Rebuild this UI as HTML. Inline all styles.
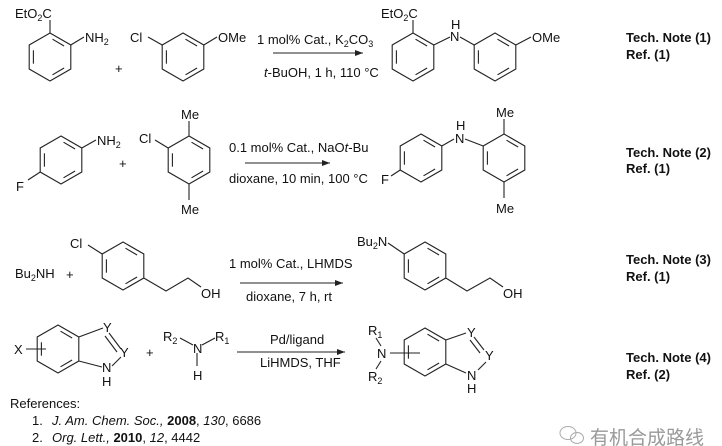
<!DOCTYPE html>
<html><head><meta charset="utf-8"><style>
html,body{margin:0;padding:0;background:#fff;}
svg{display:block;font-family:"Liberation Sans",Arial,sans-serif;}
text{font-size:13px;fill:#111;}
.b{font-weight:bold;font-size:13px;}
</style></head><body>
<svg width="722" height="446" viewBox="0 0 722 446" xmlns="http://www.w3.org/2000/svg">
<defs>
<g id="ring" fill="none" stroke="#222" stroke-width="1.1">
<polygon points="0,-24 20.8,-12 20.8,12 0,24 -20.8,12 -20.8,-12"/>
<line x1="2.5" y1="-17.8" x2="14.1" y2="-11"/>
<line x1="14.1" y1="11" x2="2.5" y2="17.8"/>
<line x1="-16.6" y1="6.7" x2="-16.6" y2="-6.7"/>
</g>
<marker id="ah" markerWidth="8" markerHeight="6" refX="8" refY="3" orient="auto" markerUnits="userSpaceOnUse"><path d="M0,0 L8,3 L0,6 z" fill="#222"/></marker>
</defs>
<g stroke="#222" stroke-width="1.1" fill="none">
<!-- row 1 -->
<line x1="50" y1="33" x2="50" y2="20"/>
<line x1="70.8" y1="45" x2="84" y2="37"/>
<line x1="162.2" y1="45" x2="148" y2="37"/>
<line x1="203.8" y1="45" x2="217" y2="37"/>
<line x1="273" y1="53" x2="363" y2="53" marker-end="url(#ah)"/>
<line x1="413" y1="33" x2="413" y2="20"/>
<line x1="433.8" y1="45" x2="450" y2="37"/>
<line x1="460" y1="37" x2="474.2" y2="45"/>
<line x1="515.8" y1="45" x2="531" y2="37"/>
<!-- row 2 -->
<line x1="81.8" y1="148" x2="96" y2="140"/>
<line x1="40.2" y1="172" x2="28" y2="180"/>
<line x1="189" y1="136" x2="189" y2="121"/>
<line x1="189" y1="184" x2="189" y2="200"/>
<line x1="168.2" y1="148" x2="155" y2="140"/>
<line x1="245" y1="163" x2="330" y2="163" marker-end="url(#ah)"/>
<line x1="400.2" y1="170" x2="391" y2="176"/>
<line x1="441.8" y1="146" x2="454" y2="139"/>
<line x1="465" y1="139" x2="483.2" y2="146"/>
<line x1="504" y1="134" x2="504" y2="119"/>
<line x1="504" y1="182" x2="504" y2="198"/>
<!-- row 3 -->
<line x1="102.2" y1="254" x2="88" y2="245"/>
<polyline points="143.8,278 166,291 188,278 201,287"/>
<line x1="240" y1="283" x2="343" y2="283" marker-end="url(#ah)"/>
<line x1="388" y1="243" x2="404.2" y2="254"/>
<polyline points="445.8,278 467,291 490,278 503,287"/>
<!-- row 4 -->
<line x1="78.8" y1="337" x2="103" y2="328"/>
<line x1="109" y1="333" x2="121" y2="349"/>
<line x1="105" y1="336" x2="117" y2="352"/>
<line x1="121" y1="357" x2="112" y2="366"/>
<line x1="102" y1="367" x2="78.8" y2="361"/>
<line x1="26" y1="349" x2="46" y2="349"/>
<line x1="180" y1="338" x2="193" y2="345"/>
<line x1="202" y1="345" x2="215" y2="338"/>
<line x1="197" y1="353" x2="197" y2="366"/>
<line x1="237" y1="352" x2="345" y2="352" marker-end="url(#ah)"/>
<line x1="376" y1="338" x2="381" y2="346"/>
<line x1="381" y1="361" x2="376" y2="369"/>
<line x1="390" y1="353" x2="420" y2="353"/>
<line x1="445.8" y1="340" x2="466" y2="333"/>
<line x1="474" y1="337" x2="484" y2="350"/>
<line x1="470" y1="340" x2="480" y2="353"/>
<line x1="486" y1="362" x2="478" y2="370"/>
<line x1="466" y1="373" x2="445.8" y2="364"/>
</g>
<use href="#ring" x="50" y="57"/>
<use href="#ring" x="183" y="57"/>
<use href="#ring" x="413" y="57"/>
<use href="#ring" x="495" y="57"/>
<use href="#ring" x="61" y="160"/>
<use href="#ring" x="189" y="160"/>
<use href="#ring" x="421" y="158"/>
<use href="#ring" x="504" y="158"/>
<use href="#ring" x="123" y="266"/>
<use href="#ring" x="425" y="266"/>
<use href="#ring" x="58" y="349"/>
<use href="#ring" x="425" y="352"/>

<!-- row 1 text -->
<text x="15" y="18">EtO<tspan font-size="9" dy="3">2</tspan><tspan dy="-3">C</tspan></text>
<text x="85" y="42">NH<tspan font-size="9" dy="3">2</tspan></text>
<text x="115" y="73">+</text>
<text x="130" y="42">Cl</text>
<text x="218" y="42">OMe</text>
<text x="257" y="44">1 mol% Cat., K<tspan font-size="9" dy="3">2</tspan><tspan dy="-3">CO</tspan><tspan font-size="9" dy="3">3</tspan></text>
<text x="264" y="77"><tspan font-style="italic">t</tspan>-BuOH, 1 h, 110 °C</text>
<text x="381" y="18">EtO<tspan font-size="9" dy="3">2</tspan><tspan dy="-3">C</tspan></text>
<text x="450" y="41">N</text>
<text x="451" y="29">H</text>
<text x="532" y="42">OMe</text>
<text class="b" x="626" y="42">Tech. Note (1)</text>
<text class="b" x="626" y="59">Ref. (1)</text>

<!-- row 2 text -->
<text x="97" y="145">NH<tspan font-size="9" dy="3">2</tspan></text>
<text x="16" y="191">F</text>
<text x="119" y="168">+</text>
<text x="139" y="143">Cl</text>
<text x="181" y="119">Me</text>
<text x="181" y="214">Me</text>
<text x="229" y="152">0.1 mol% Cat., NaO<tspan font-style="italic">t</tspan>-Bu</text>
<text x="229" y="183">dioxane, 10 min, 100 °C</text>
<text x="381" y="184">F</text>
<text x="455" y="143">N</text>
<text x="456" y="130">H</text>
<text x="496" y="117">Me</text>
<text x="496" y="213">Me</text>
<text class="b" x="626" y="157">Tech. Note (2)</text>
<text class="b" x="626" y="173">Ref. (1)</text>

<!-- row 3 text -->
<text x="15" y="278">Bu<tspan font-size="9" dy="3">2</tspan><tspan dy="-3">NH</tspan></text>
<text x="66" y="279">+</text>
<text x="70" y="248">Cl</text>
<text x="201" y="298">OH</text>
<text x="229" y="268">1 mol% Cat., LHMDS</text>
<text x="246" y="301">dioxane, 7 h, rt</text>
<text x="357" y="246">Bu<tspan font-size="9" dy="3">2</tspan><tspan dy="-3">N</tspan></text>
<text x="503" y="298">OH</text>
<text class="b" x="626" y="264">Tech. Note (3)</text>
<text class="b" x="626" y="281">Ref. (1)</text>

<!-- row 4 text -->
<text x="14" y="354">X</text>
<text x="103" y="332">Y</text>
<text x="120" y="357">Y</text>
<text x="102" y="372">N</text>
<text x="102" y="386">H</text>
<text x="146" y="357">+</text>
<text x="163" y="341">R<tspan font-size="9" dy="3">2</tspan></text>
<text x="193" y="353">N</text>
<text x="215" y="341">R<tspan font-size="9" dy="3">1</tspan></text>
<text x="193" y="380">H</text>
<text x="270" y="344">Pd/ligand</text>
<text x="260" y="367">LiHMDS, THF</text>
<text x="368" y="335">R<tspan font-size="9" dy="3">1</tspan></text>
<text x="377" y="358">N</text>
<text x="368" y="381">R<tspan font-size="9" dy="3">2</tspan></text>
<text x="467" y="337">Y</text>
<text x="485" y="360">Y</text>
<text x="467" y="380">N</text>
<text x="467" y="393">H</text>
<text class="b" x="626" y="362">Tech. Note (4)</text>
<text class="b" x="626" y="379">Ref. (2)</text>

<!-- references -->
<text x="10" y="408">References:</text>
<text x="32" y="425">1.</text>
<text x="52" y="425"><tspan font-style="italic">J. Am. Chem. Soc.,</tspan> <tspan font-weight="bold">2008</tspan>, <tspan font-style="italic">130</tspan>, 6686</text>
<text x="32" y="442">2.</text>
<text x="52" y="442"><tspan font-style="italic">Org. Lett.,</tspan> <tspan font-weight="bold">2010</tspan>, <tspan font-style="italic">12</tspan>, 4442</text>

<!-- watermark -->
<g stroke="#aaa" fill="none" stroke-width="1">
<ellipse cx="568" cy="433" rx="8" ry="6.5"/>
<ellipse cx="577" cy="438" rx="6.5" ry="5.5"/>
</g>
<text x="590" y="444" style="font-family:'Liberation Sans','Noto Sans CJK SC',sans-serif;font-size:19px;fill:#999">有机合成路线</text>
</svg>
</body></html>
